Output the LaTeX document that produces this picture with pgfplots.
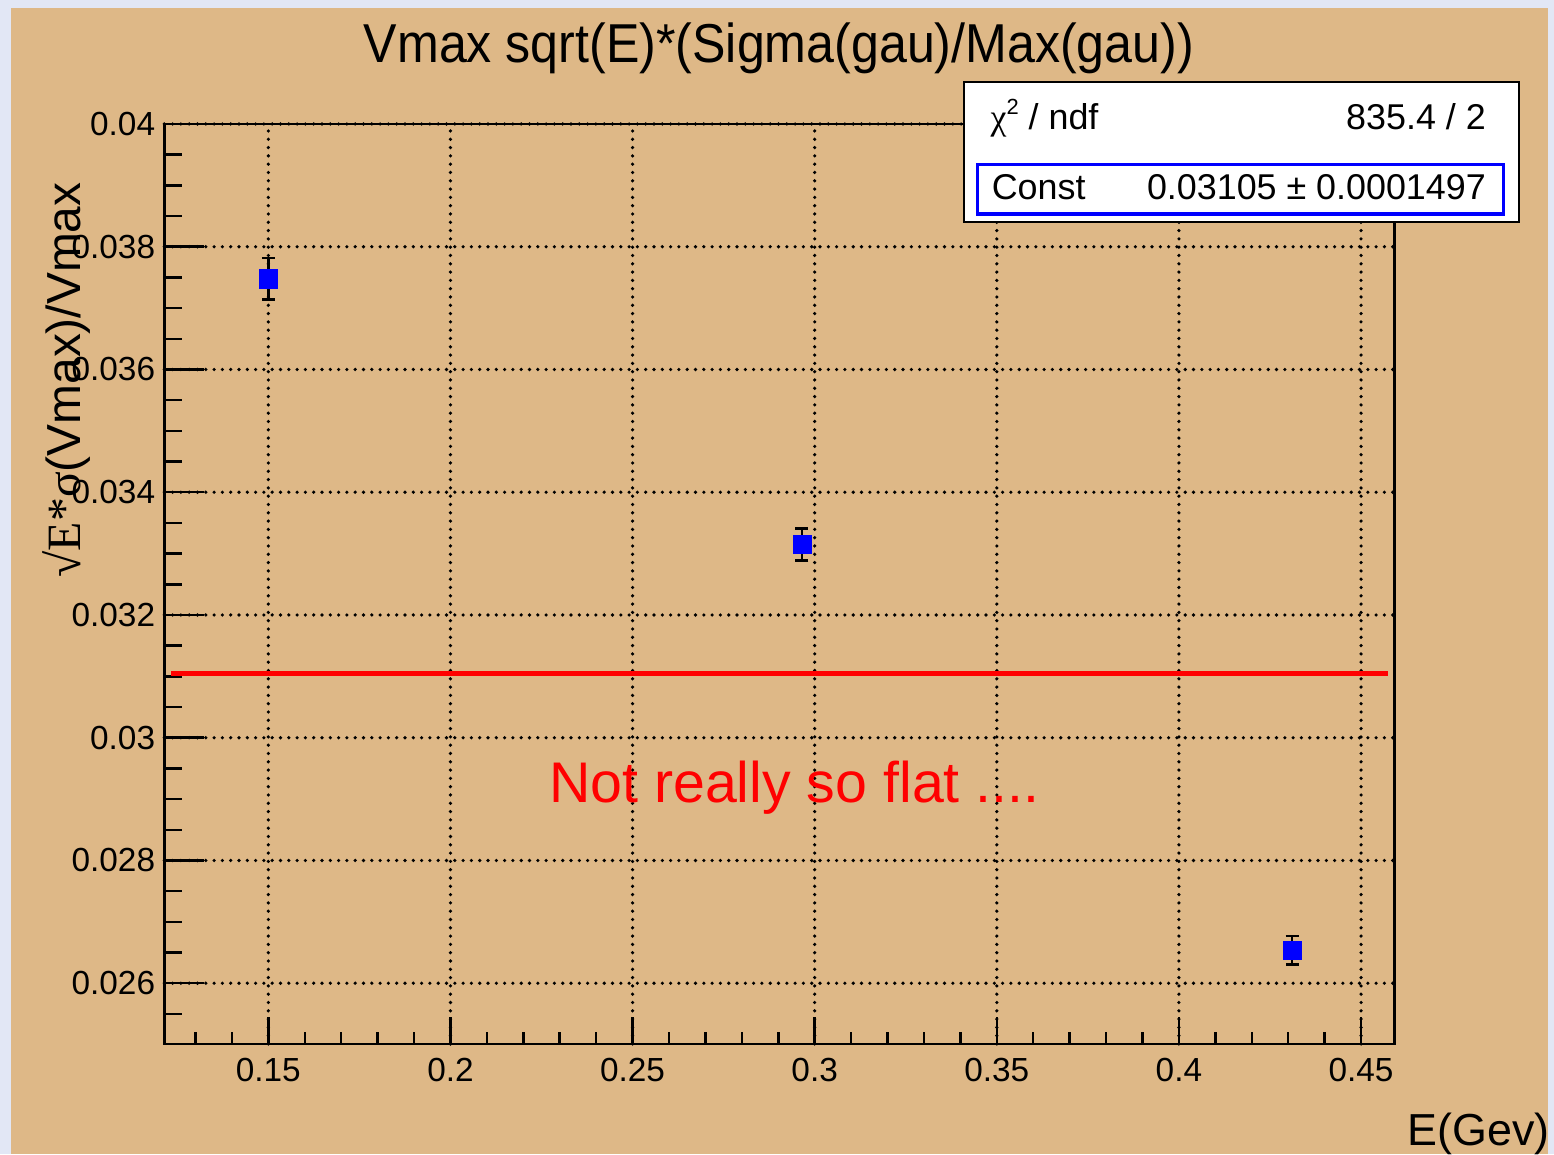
\documentclass[border=0pt]{standalone}
\usepackage{fontspec}
\setmainfont{Liberation Sans}
\newfontfamily\symserif{Liberation Serif}
\usepackage{pgfplots}
\pgfplotsset{compat=1.18}

\definecolor{padbg}{HTML}{DEB887}
\definecolor{pagebg}{HTML}{E2E7F5}

\newcommand{\fsz}[1]{\fontsize{#1}{#1}\selectfont}

\begin{document}
\begin{tikzpicture}[x=1bp,y=1bp]
\useasboundingbox (0,0) rectangle (1554,1154);
\fill[pagebg] (0,0) rectangle (1554,1154);
\fill[padbg] (11,0) rectangle (1548,1146);

\begin{axis}[
  at={(164.3bp,110bp)}, anchor=south west,
  width=1230bp, height=920bp, scale only axis,
  xmin=0.12144, xmax=0.45914,
  ymin=0.02501, ymax=0.04,
  scaled x ticks=false, scaled y ticks=false,
  axis line style={line width=2.6bp, black},
  tick pos=left, tick align=inside,
  xtick={0.15,0.2,0.25,0.3,0.35,0.4,0.45},
  xticklabels={0.15,0.2,0.25,0.3,0.35,0.4,0.45},
  minor xtick={0.13,0.14,0.16,0.17,0.18,0.19,0.21,0.22,0.23,0.24,0.26,0.27,0.28,0.29,0.31,0.32,0.33,0.34,0.36,0.37,0.38,0.39,0.41,0.42,0.43,0.44},
  ytick={0.026,0.028,0.03,0.032,0.034,0.036,0.038,0.04},
  yticklabels={0.026,0.028,0.03,0.032,0.034,0.036,0.038,0.04},
  minor ytick={0.0255,0.0265,0.027,0.0275,0.0285,0.029,0.0295,0.0305,0.031,0.0315,0.0325,0.033,0.0335,0.0345,0.035,0.0355,0.0365,0.037,0.0375,0.0385,0.039,0.0395},
  xtick style={line width=2.5bp, black, /pgfplots/major tick length=27bp, /pgfplots/minor tick length=12bp},
  ytick style={line width=2.5bp, black, /pgfplots/major tick length=40bp, /pgfplots/minor tick length=18bp},
  grid=major,
  major grid style={black, line width=3.6bp, line cap=round, dash pattern=on 0bp off 8.3bp},
  xticklabel style={font=\fsz{33.5}, anchor=north, inner sep=0pt, yshift=-14bp},
  yticklabel style={font=\fsz{33.5}, anchor=east, inner sep=0pt, xshift=-9bp},
  clip=false,
]
% constant fit
\addplot[red, line width=4.5bp] coordinates {(0.1234,0.03105) (0.4574,0.03105)};
% measured points with errors
\addplot[only marks, mark=square*, mark size=9.2bp, blue,
  error bars/.cd, y dir=both, y explicit,
  error bar style={black, line width=2.5bp},
  error mark=-,
  error mark options={rotate=90, black, mark size=6.5bp, line width=2.8bp}]
  coordinates {
    (0.15,0.037477) +- (0,0.00034)
    (0.2965,0.033150) +- (0,0.00026)
    (0.4311,0.026541) +- (0,0.00023)
  };
\end{axis}

% title
\node[anchor=base, inner sep=0pt] at (779,1091.3)
  {\scalebox{0.915}[1]{\fsz{55}Vmax sqrt(E)*(Sigma(gau)/Max(gau))}};

% axis titles
\node[anchor=base, rotate=90, inner sep=0pt] at (80,774)
  {\fsz{48}{\symserif √E*σ}(Vmax)/Vmax};
\node[anchor=base east, inner sep=0pt] at (1550,9) {\fsz{45}E(Gev)};

% annotation
\node[anchor=base west, inner sep=0pt, text=red] at (549,351.3)
  {\fsz{57.5}Not really so flat ....};

% fit statistics box
\draw[black, line width=2bp, fill=white] (963.5,931.7) rectangle (1519,1071.7);
\draw[blue, line width=3.5bp] (977.7,940) rectangle (1503.5,989.7);
\node[anchor=base west, inner sep=0pt] at (990.4,1024)
  {\fsz{36}{\symserif χ}\raisebox{0.42em}{\fsz{22}2} / ndf};
\node[anchor=base east, inner sep=0pt] at (1486,1024) {\fsz{36}835.4 / 2};
\node[anchor=base west, inner sep=0pt] at (991.6,954) {\fsz{36}Const};
\node[anchor=base east, inner sep=0pt] at (1486,954) {\fsz{36}0.03105 ± 0.0001497};
\end{tikzpicture}
\end{document}
